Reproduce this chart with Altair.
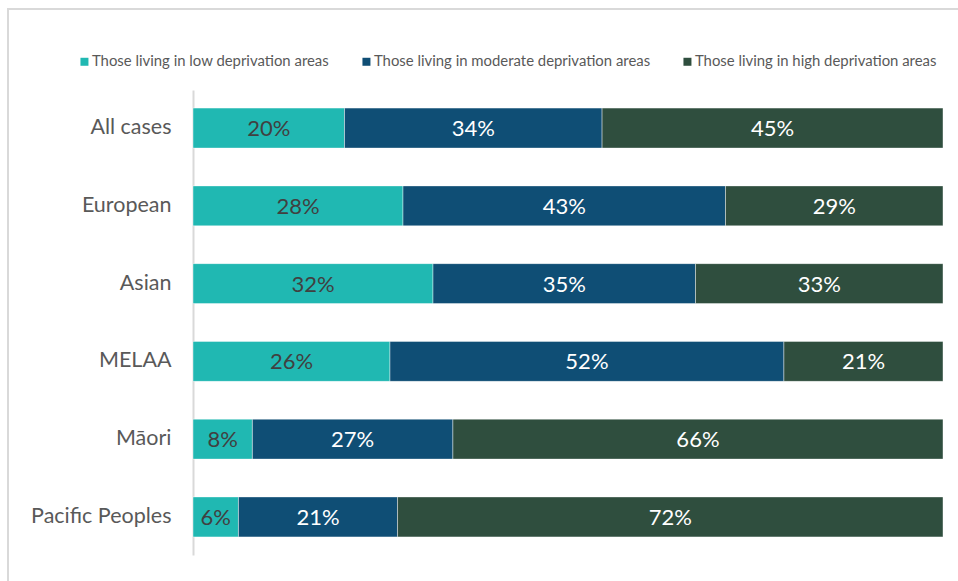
import altair as alt
import pandas as pd

categories = ["All cases", "European", "Asian", "MELAA", "Māori", "Pacific Peoples"]
series = [
    "Those living in low deprivation areas",
    "Those living in moderate deprivation areas",
    "Those living in high deprivation areas",
]
low = [20, 28, 32, 26, 8, 6]
moderate = [34, 43, 35, 52, 27, 21]
high = [45, 29, 33, 21, 66, 72]
colors = ["#20B8B2", "#0F4E75", "#2F4E3E"]
text_colors = ["#404040", "#FFFFFF", "#FFFFFF"]

rows = []
for i, c in enumerate(categories):
    for j, (s, vals) in enumerate(zip(series, [low, moderate, high])):
        rows.append({"cat": c, "series": s, "value": vals[i], "order": j,
                     "label": f"{vals[i]}%", "tc": text_colors[j]})
df = pd.DataFrame(rows)

FONT = "Lato"

base = alt.Chart(df).transform_stack(
    stack="value", groupby=["cat"], as_=["x0", "x1"],
    sort=[alt.SortField("order", order="ascending")], offset="normalize"
).transform_calculate(mid="(datum.x0 + datum.x1) / 2")

xscale = alt.Scale(domain=[0, 1], nice=False, zero=True)
yenc = alt.Y("cat:N", sort=categories,
             scale=alt.Scale(paddingInner=0.486, paddingOuter=0.233),
             axis=alt.Axis(title=None, ticks=False, labelFontSize=21.5, labelFont=FONT,
                           labelColor="#595959", labelPadding=22,
                           domainColor="#D9D9D9", domainWidth=2, grid=False))

bars = base.mark_bar(stroke="#FFFFFF", strokeWidth=0.6, strokeOpacity=0.7).encode(
    x=alt.X("x0:Q", scale=xscale, axis=None),
    x2="x1:Q",
    y=yenc,
    color=alt.Color("series:N", sort=series,
                    scale=alt.Scale(domain=series, range=colors),
                    legend=alt.Legend(title=None, orient="none", legendX=-116, legendY=-36,
                                      direction="horizontal", symbolType="square",
                                      symbolSize=64, symbolStrokeWidth=0, labelLimit=0,
                                      labelFont=FONT, labelFontSize=14.9, labelColor="#595959",
                                      labelOffset=0, columnPadding=29, symbolOpacity=1)),
)

texts = base.mark_text(fontSize=22, font=FONT, baseline="middle", align="center", dy=1).encode(
    x=alt.X("mid:Q", scale=xscale, axis=None),
    y=alt.Y("cat:N", sort=categories),
    text="label:N",
    color=alt.Color("tc:N", scale=None, legend=None),
)

border = alt.Chart(alt.Data(values=[{}])).mark_rect(
    fill=None, stroke="#D9D9D9", strokeWidth=2
).encode(x=alt.value(-185), x2=alt.value(800), y=alt.value(-81), y2=alt.value(600))

chart = alt.layer(border, bars, texts).properties(
    width=750, height=465,
    background="#FFFFFF",
    autosize=alt.AutoSizeParams(type="none"),
    padding={"left": 193, "top": 90, "right": 15, "bottom": 26},
).configure_view(stroke=None, strokeWidth=0)

chart.save("out.html", embed_options={"renderer": "svg", "actions": False})
